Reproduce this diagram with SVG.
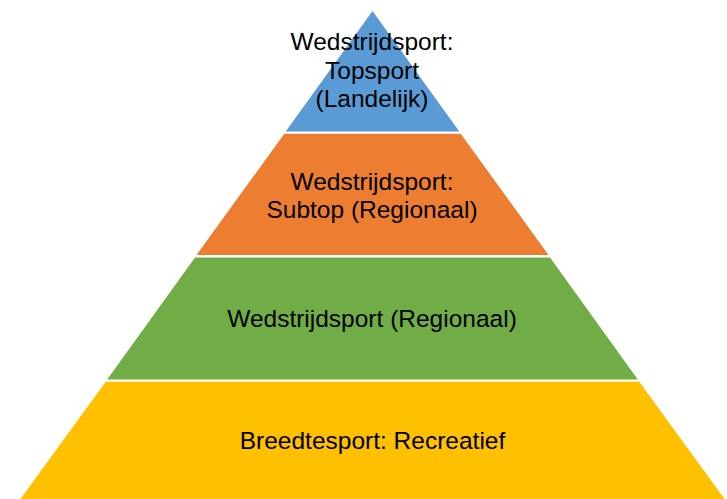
<svg xmlns="http://www.w3.org/2000/svg" width="727" height="499" viewBox="0 0 727 499">
<style>
.t{font-family:"Liberation Sans",Arial,sans-serif;font-size:24.5px;fill:#000;text-anchor:middle}
</style>
<rect width="727" height="499" fill="#fff"/>
<g id="level-top">
<polygon points="372.5,11 459.3,131.5 285.7,131.5" fill="#5B9BD5"/>
<text class="t" x="372" y="50">Wedstrijdsport:</text>
<text class="t" x="372" y="79">Topsport</text>
<text class="t" x="372" y="107">(Landelijk)</text>
</g>
<g id="level-subtop">
<polygon points="284.3,133.8 460.7,133.8 548.5,255 196.5,255" fill="#ED7D31"/>
<text class="t" x="372" y="190">Wedstrijdsport:</text>
<text class="t" x="372" y="218">Subtop (Regionaal)</text>
</g>
<g id="level-regionaal">
<polygon points="195,257.5 550,257.5 637.8,379.5 107.2,379.5" fill="#70AD47"/>
<text class="t" x="372" y="327">Wedstrijdsport (Regionaal)</text>
</g>
<g id="level-breedtesport">
<polygon points="105.7,381.8 639.3,381.8 724.5,499 20.5,499" fill="#FFC000"/>
<text class="t" x="372.5" y="449">Breedtesport: Recreatief</text>
</g>
<g id="connectors"/>
</svg>
